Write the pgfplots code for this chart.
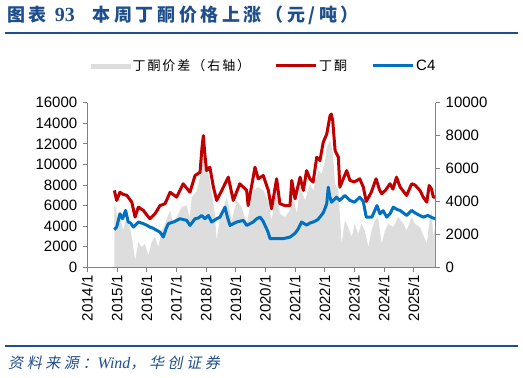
\documentclass[border=0pt]{standalone}
\usepackage{pgfplots}
\pgfplotsset{compat=1.18}
\usepackage{fontspec}
\setmainfont{Liberation Sans}
\newfontfamily\cjkleg[LetterSpace=15]{Noto Sans CJK SC}
\newfontfamily\cjktitle[LetterSpace=20]{Noto Sans CJK SC}
\newfontfamily\cjksrc[FakeSlant=0.2,LetterSpace=24]{Noto Sans CJK SC}
\newfontfamily\timesf{Liberation Serif}
\definecolor{titleblue}{RGB}{31,78,140}
\definecolor{redc}{RGB}{192,0,0}
\definecolor{bluec}{RGB}{0,112,192}
\definecolor{graycol}{RGB}{221,221,221}
\definecolor{axcol}{RGB}{128,128,128}

\pgfplotstableread{
x y
2014.91 7470
2014.99 6500
2015.10 7300
2015.20 7100
2015.33 7000
2015.50 6330
2015.61 4880
2015.72 5850
2015.89 5530
2016.00 5100
2016.11 4720
2016.28 5200
2016.45 6000
2016.62 6180
2016.79 7300
2017.01 6820
2017.23 8120
2017.46 7300
2017.63 8920
2017.80 9240
2017.86 11500
2017.91 12800
2017.96 11000
2018.02 9400
2018.13 9730
2018.25 7790
2018.36 6500
2018.53 7470
2018.75 8760
2018.92 6500
2019.14 8120
2019.37 7470
2019.42 6000
2019.65 9730
2019.76 8600
2019.93 8920
2020.10 7470
2020.21 5690
2020.38 8600
2020.49 6180
2020.66 6000
2020.83 6000
2020.89 8440
2021.00 6660
2021.17 8760
2021.28 7470
2021.39 9400
2021.50 8600
2021.61 8280
2021.73 10700
2021.84 10380
2021.95 12150
2022.07 12970
2022.18 14740
2022.22 14900
2022.27 14260
2022.35 11350
2022.46 10700
2022.51 7790
2022.74 9400
2022.85 8440
2023.00 8300
2023.18 8600
2023.30 7800
2023.40 6400
2023.57 7300
2023.73 8600
2023.85 7500
2023.92 7150
2024.05 7500
2024.20 8120
2024.30 7600
2024.42 8760
2024.54 7800
2024.65 7400
2024.76 6980
2024.93 8120
2025.04 8000
2025.21 7470
2025.32 6820
2025.44 6330
2025.52 7950
2025.60 7600
2025.66 6820
2025.72 6820
}\redtab

\pgfplotstableread{
x y
2014.91 3660
2014.99 3910
2015.10 5200
2015.19 4720
2015.29 5530
2015.38 4400
2015.46 4300
2015.55 3910
2015.72 4400
2015.89 4240
2016.00 4100
2016.11 3910
2016.22 3800
2016.34 3590
2016.45 3420
2016.56 2940
2016.65 3700
2016.73 4240
2016.90 4400
2017.12 4720
2017.35 4560
2017.46 4070
2017.63 4720
2017.75 4800
2017.85 5040
2017.97 4720
2018.08 5040
2018.19 4400
2018.36 4720
2018.47 4880
2018.58 5500
2018.64 5850
2018.72 4900
2018.81 4070
2019.03 4400
2019.26 4560
2019.37 4070
2019.59 4400
2019.70 4700
2019.82 4880
2019.92 4500
2019.99 4070
2020.08 3500
2020.16 2780
2020.38 2780
2020.60 2780
2020.83 2940
2021.00 3300
2021.10 3700
2021.22 4400
2021.39 4100
2021.50 4300
2021.61 4400
2021.75 4600
2021.84 4880
2021.95 5300
2022.01 5720
2022.07 6200
2022.12 7790
2022.17 6900
2022.23 6330
2022.40 6820
2022.50 6500
2022.68 6980
2022.85 6500
2023.01 6330
2023.18 6820
2023.30 6400
2023.40 4880
2023.59 4880
2023.76 6000
2023.86 5200
2023.97 5500
2024.09 4880
2024.20 5200
2024.31 5850
2024.45 5600
2024.54 5530
2024.76 5040
2024.93 5530
2025.04 5300
2025.10 5200
2025.32 4880
2025.48 5040
2025.60 4850
2025.72 4720
}\bluetab

\pgfplotstableread{
x y
2014.91 3760
2014.95 3700
2015.04 2650
2015.12 3000
2015.21 2240
2015.30 2900
2015.44 2440
2015.52 1600
2015.61 420
2015.72 1530
2015.83 1230
2015.94 1430
2016.06 730
2016.17 1530
2016.28 1840
2016.39 1230
2016.51 2240
2016.62 2650
2016.79 3450
2016.90 2600
2017.01 3050
2017.18 3660
2017.35 3760
2017.45 3000
2017.52 4260
2017.69 4670
2017.80 5470
2017.89 7190
2017.97 5880
2018.08 5680
2018.19 4670
2018.30 3200
2018.36 1640
2018.47 3050
2018.60 3600
2018.70 4260
2018.87 2850
2019.03 4060
2019.20 3660
2019.37 2650
2019.50 3800
2019.59 4670
2019.76 4870
2019.93 4670
2020.10 4060
2020.21 2850
2020.38 4670
2020.49 3250
2020.66 3050
2020.83 3450
2020.94 4260
2021.06 3250
2021.17 4870
2021.34 4060
2021.50 5080
2021.61 4670
2021.78 5880
2021.90 5680
2022.01 6480
2022.07 7290
2022.18 7700
2022.27 7000
2022.35 5070
2022.46 4670
2022.57 1430
2022.68 2850
2022.79 2440
2022.91 1840
2023.01 2650
2023.13 2040
2023.24 2650
2023.35 2240
2023.47 1230
2023.58 2240
2023.69 2850
2023.80 3050
2023.92 1430
2024.03 2240
2024.14 2650
2024.31 2440
2024.48 3050
2024.65 2650
2024.76 2240
2024.93 3050
2025.04 2650
2025.21 2440
2025.44 1430
2025.55 3050
2025.60 3450
2025.66 1840
2025.72 2440
}\graytab

\begin{document}
\begin{tikzpicture}
\path[use as bounding box] (0,0) rectangle (523pt,-378pt);
% title
\node[anchor=west, text=titleblue, inner sep=0pt] at (7pt,-15.5pt)
  {\cjktitle\bfseries\fontsize{18}{18}\selectfont 图表\hspace{8pt}{\timesf\bfseries\fontsize{20}{20}\selectfont 93}\hspace{18pt}本周丁酮价格上涨（元/吨）};
\draw[titleblue, line width=2pt] (5pt,-32.5pt) -- (518pt,-32.5pt);
% source
\draw[titleblue, line width=2pt] (5pt,-346pt) -- (518pt,-346pt);
\node[anchor=west, text=titleblue, inner sep=0pt] at (8pt,-363pt)
  {\cjksrc\fontsize{15}{15}\selectfont 资料来源：{\timesf\itshape\fontsize{16}{16}\selectfont Wind}，华创证券};

\pgfplotsset{
  every axis/.append style={
    at={(87.3pt,-267.3pt)}, anchor=south west,
    scale only axis, width=348.4pt, height=164.6pt,
    xmin=2014, xmax=2025.74,
    /pgf/number format/assume math mode=true,
    /pgf/number format/1000 sep={},
    scaled ticks=false,
    tick align=outside,
    major tick length=4.5pt,
    axis line style={axcol, line width=0.8pt},
    tick style={axcol, line width=0.8pt},
    ticklabel style={font=\fontsize{15}{15}\selectfont, text=black},
  }
}
% right axis: spread area
\begin{axis}[
  ymin=0, ymax=10000,
  axis y line*=right,
  axis x line=none,
  ytick={0,2000,...,10000},
  yticklabel style={xshift=2pt},
]
\addplot[fill=graycol, draw=none] table[x=x,y=y] {\graytab} \closedcycle;
\end{axis}
% left axis: lines
\begin{axis}[
  ymin=0, ymax=16000,
  axis y line*=left,
  axis x line*=bottom,
  ytick={0,2000,...,16000},
  xtick={2014,...,2025},
  xticklabels={2014/1,2015/1,2016/1,2017/1,2018/1,2019/1,2020/1,2021/1,2022/1,2023/1,2024/1,2025/1},
  x tick label style={rotate=90, anchor=east},
  yticklabel style={xshift=-2pt},
  legend columns=3,
  legend style={at={(0.508,1.224)}, anchor=center, draw=none, fill=none,
    /tikz/every even column/.append style={column sep=22pt}},
  legend image code/.code={\draw[#1] (0pt,0pt) -- (40pt,0pt);},
]
\addlegendimage{legend image code/.code={\fill[graycol] (0pt,-2pt) rectangle (39pt,2pt);}}
\addlegendentry{\cjkleg\fontsize{13}{13}\selectfont 丁酮价差（右轴）}
\addplot[redc, line width=3pt, line join=round] table[x=x,y=y] {\redtab};
\addlegendentry{\cjkleg\fontsize{13}{13}\selectfont 丁酮}
\addplot[bluec, line width=3pt, line join=round] table[x=x,y=y] {\bluetab};
\addlegendentry{\fontsize{15}{15}\selectfont C4}
\end{axis}
\end{tikzpicture}
\end{document}
